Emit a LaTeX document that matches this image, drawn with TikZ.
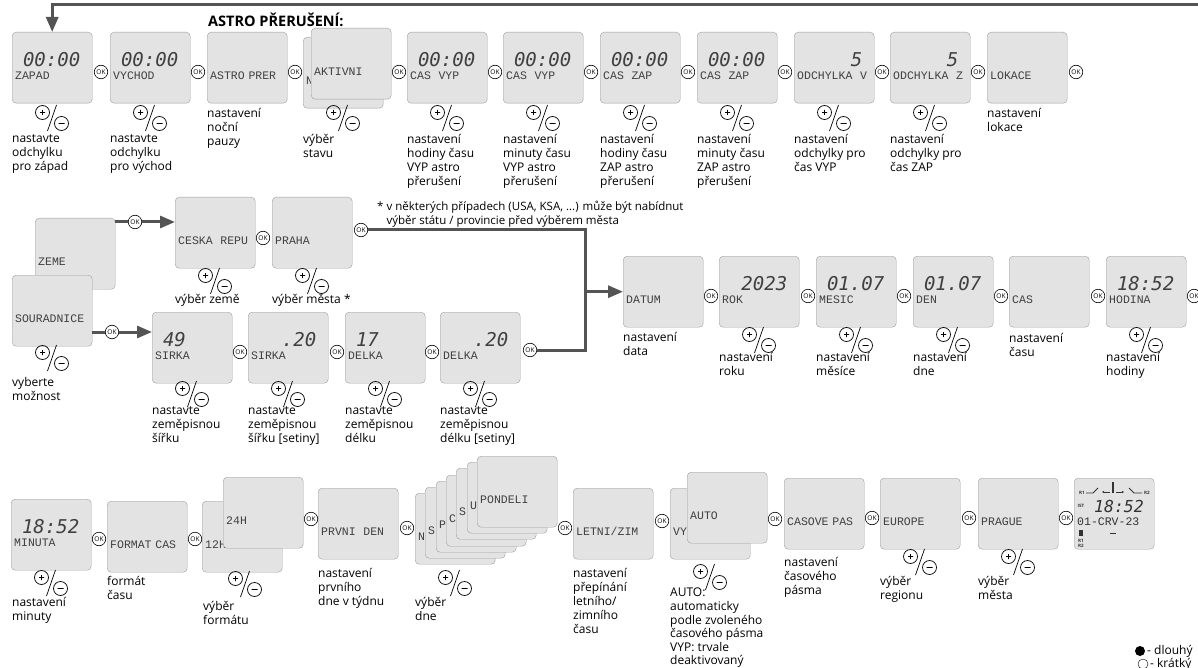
\documentclass[tikz,border=0pt]{standalone}
\usepackage{fontspec}
\setmainfont{Open Sans}
\newfontfamily\lcdfam{Liberation Mono}
\newfontfamily\digfam{DejaVu Sans Mono}
\usetikzlibrary{arrows.meta}
\newcommand\lcdval[1]{\hfill\smash{\digfam\fontsize{19}{19}\selectfont\itshape #1}\hspace*{9pt}\rule[-3pt]{0pt}{13pt}}

\begin{document}
\begin{tikzpicture}[x=1pt, y=-1pt, font=\fontsize{12}{14}\selectfont,
  lcd/.style={draw=black!38, fill=black!11, rounded corners=4pt, anchor=north west,
    minimum height=71pt, text width=74pt, inner sep=3pt, text depth=13pt, align=left,
    font=\lcdfam\fontsize{11.5}{13}\selectfont, text=black!75},
  ok/.style={circle, draw, fill=white, line width=0.6pt, inner sep=0pt, minimum size=13.5pt,
    font=\fontsize{6.5}{6.5}\selectfont},
  note/.style={anchor=north west, align=left, inner sep=0pt},
  flowline/.style={draw=black!67, line width=3pt},
  flow/.style={flowline, ->, >={Triangle[length=15pt, width=12pt]}},
  pm/.pic={
    \draw[line width=0.7pt] (-9.5,-5.5) circle (7) (9.5,5.5) circle (7) (6.5,5.5) -- (12.5,5.5)
      (-12,-5.5) -- (-7,-5.5) (-9.5,-8) -- (-9.5,-3) (-4.5,13) -- (4.5,-13);
  },
]
\useasboundingbox (0,0) rectangle (1198,668);

% astro row
\node[note, anchor=west, font=\bfseries\fontsize{14.5}{16}\selectfont] (title) at (208,20) {ASTRO PŘERUŠENÍ:};
\node[lcd] (zapad) at (12,32) {\lcdval{00:00}\\ZAPAD};
\node[lcd] (vychod) at (110,32) {\lcdval{00:00}\\VYCHOD};
\node[lcd] (astro) at (207,32) {\lcdval{}\\ASTRO PRER};
\node[lcd] (neaktivni) at (303,37) {\lcdval{}\\N};
\node[lcd] (aktivni) at (311,28) {\lcdval{}\\AKTIVNI};
\node[lcd] (vyphod) at (407,32) {\lcdval{00:00}\\CAS~~VYP};
\node[lcd] (vypmin) at (503,32) {\lcdval{00:00}\\CAS~~VYP};
\node[lcd] (zaphod) at (600,32) {\lcdval{00:00}\\CAS~~ZAP};
\node[lcd] (zapmin) at (697,32) {\lcdval{00:00}\\CAS~~ZAP};
\node[lcd] (odchvyp) at (794,32) {\lcdval{5}\\ODCHYLKA~~V};
\node[lcd] (odchzap) at (890,32) {\lcdval{5}\\ODCHYLKA~~Z};
\node[lcd] (lokace) at (987,32) {\lcdval{}\\LOKACE};

\node[ok] (okzapad) at (101,72) {OK};
\node[ok] (okvychod) at (198,72) {OK};
\node[ok] (okastro) at (295,72) {OK};
\node[ok] (okaktivni) at (399,72) {OK};
\node[ok] (okvyphod) at (495,72) {OK};
\node[ok] (okvypmin) at (591,72) {OK};
\node[ok] (okzaphod) at (688,72) {OK};
\node[ok] (okzapmin) at (785,72) {OK};
\node[ok] (okodchvyp) at (882,72) {OK};
\node[ok] (okodchzap) at (978,72) {OK};
\node[ok] (oklokace) at (1076,72) {OK};

\pic at (52,118) {pm};
\pic at (150,118) {pm};
\pic at (343,118) {pm};
\pic at (447,118) {pm};
\pic at (543,118) {pm};
\pic at (640,118) {pm};
\pic at (737,118) {pm};
\pic at (834,118) {pm};
\pic at (930,118) {pm};

\node[note] (zapad-txt) at (12,134) {nastavte\\odchylku\\pro západ};
\node[note] (vychod-txt) at (110,134) {nastavte\\odchylku\\pro východ};
\node[note] (astro-txt) at (207,108) {nastavení\\noční\\pauzy};
\node[note] (stav-txt) at (303,134) {výběr\\stavu};
\node[note] (vyphod-txt) at (407,134) {nastavení\\hodiny času\\VYP astro\\přerušení};
\node[note] (vypmin-txt) at (503,134) {nastavení\\minuty času\\VYP astro\\přerušení};
\node[note] (zaphod-txt) at (600,134) {nastavení\\hodiny času\\ZAP astro\\přerušení};
\node[note] (zapmin-txt) at (697,134) {nastavení\\minuty času\\ZAP astro\\přerušení};
\node[note] (odchvyp-txt) at (794,134) {nastavení\\odchylky pro\\čas VYP};
\node[note] (odchzap-txt) at (890,134) {nastavení\\odchylky pro\\čas ZAP};
\node[note] (lokace-txt) at (987,108) {nastavení\\lokace};

\coordinate (back) at (1210,5);
\draw[flow] (back) -| (zapad);

% location and date
\node[lcd] (zeme) at (35,218) {\lcdval{}\\ZEME};
\node[lcd] (souradnice) at (12,275) {\lcdval{}\\SOURADNICE};
\node[lcd] (ceska) at (175,197) {\lcdval{}\\CESKA~~REPU};
\node[lcd] (praha) at (272,197) {\lcdval{}\\PRAHA};
\node[lcd] (sirka) at (152,312) {\lcdval{49\phantom{:00}}\\SIRKA};
\node[lcd] (sirkas) at (248,312) {\lcdval{.20}\\SIRKA};
\node[lcd] (delka) at (345,312) {\lcdval{17\phantom{:00}}\\DELKA};
\node[lcd] (delkas) at (440,312) {\lcdval{.20}\\DELKA};
\node[lcd] (datum) at (623,256) {\lcdval{}\\DATUM};
\node[lcd] (rok) at (719,256) {\lcdval{2023}\\ROK};
\node[lcd] (mesic) at (816,256) {\lcdval{01.07}\\MESIC};
\node[lcd] (den) at (913,256) {\lcdval{01.07}\\DEN};
\node[lcd] (cas) at (1009,256) {\lcdval{}\\CAS};
\node[lcd] (hodina) at (1106,256) {\lcdval{18:52}\\HODINA};

\node[ok] (okzeme) at (135,222) {OK};
\node[ok] (okceska) at (263,238) {OK};
\node[ok] (okpraha) at (361,230) {OK};
\node[ok] (oksour) at (112,332) {OK};
\node[ok] (oksirka) at (240,352) {OK};
\node[ok] (oksirkas) at (337,352) {OK};
\node[ok] (okdelka) at (432,352) {OK};
\node[ok] (okdelkas) at (530,350) {OK};
\node[ok] (okdatum) at (711,296) {OK};
\node[ok] (okrok) at (808,296) {OK};
\node[ok] (okmesic) at (904,296) {OK};
\node[ok] (okden) at (1001,296) {OK};
\node[ok] (okcas) at (1098,296) {OK};
\node[ok] (okhodina) at (1194,296) {OK};

\draw[flowline] (zeme.east |- okzeme) -- (okzeme);
\draw[flow] (okzeme) -- (ceska.west |- okzeme);
\draw[flowline] (souradnice.east |- oksour) -- (oksour);
\draw[flow] (oksour) -- (sirka.west |- oksour);
\coordinate (join) at ([xshift=-38pt]datum.west);
\draw[flowline] (okpraha) -| (join) |- (okdelkas);
\draw[flow] (join) -- (datum);

\pic at (52,358) {pm};
\pic at (215,281) {pm};
\pic at (312,281) {pm};
\pic at (192,394) {pm};
\pic at (288,394) {pm};
\pic at (385,394) {pm};
\pic at (480,394) {pm};
\pic at (759,340) {pm};
\pic at (856,340) {pm};
\pic at (953,340) {pm};
\pic at (1146,340) {pm};

\node[note] (souradnice-txt) at (12,377) {vyberte\\možnost};
\node[note] (ceska-txt) at (175,294) {výběr země};
\node[note] (praha-txt) at (272,294) {výběr města *};
\node[note, font=\fontsize{11.5}{14}\selectfont] (pozn) at (377,201) {* v některých případech (USA, KSA, ...) může být nabídnut\\\phantom{* }výběr státu / provincie před výběrem města};
\node[note] (sirka-txt) at (152,406) {nastavte\\zeměpisnou\\šířku};
\node[note] (sirkas-txt) at (248,406) {nastavte\\zeměpisnou\\šířku [setiny]};
\node[note] (delka-txt) at (345,406) {nastavte\\zeměpisnou\\délku};
\node[note] (delkas-txt) at (440,406) {nastavte\\zeměpisnou\\délku [setiny]};
\node[note] (datum-txt) at (623,332) {nastavení\\data};
\node[note] (rok-txt) at (719,352) {nastavení\\roku};
\node[note] (mesic-txt) at (816,352) {nastavení\\měsíce};
\node[note] (den-txt) at (913,352) {nastavení\\dne};
\node[note] (cas-txt) at (1009,333) {nastavení\\času};
\node[note] (hodina-txt) at (1106,352) {nastavení\\hodiny};

% time, day, dst, zone
\node[lcd] (minuta) at (11,499) {\lcdval{18:52}\\MINUTA};
\node[lcd] (format) at (107,501) {\lcdval{}\\FORMAT CAS};
\node[lcd] (format12) at (202,501) {\lcdval{}\\12H};
\node[lcd] (format24) at (223,477) {\lcdval{}\\24H};
\node[lcd] (prvniden) at (318,488) {\lcdval{}\\PRVNI~~DEN};
\node[lcd] (nedele) at (415,493) {\lcdval{}\\N};
\node[lcd] (sobota) at (425,487) {\lcdval{}\\S};
\node[lcd] (patek) at (436,481) {\lcdval{}\\P};
\node[lcd] (ctvrtek) at (446,475) {\lcdval{}\\C};
\node[lcd] (streda) at (456,468) {\lcdval{}\\S};
\node[lcd] (utery) at (467,462) {\lcdval{}\\U};
\node[lcd] (pondeli) at (477,456) {\lcdval{}\\PONDELI};
\node[lcd] (letni) at (573,488) {\lcdval{}\\LETNI/ZIM};
\node[lcd] (vyp) at (670,488) {\lcdval{}\\VYP};
\node[lcd] (auto) at (687,472) {\lcdval{}\\AUTO};
\node[lcd] (pasmo) at (784,478) {\lcdval{}\\CASOVE PAS};
\node[lcd] (europe) at (880,478) {\lcdval{}\\EUROPE};
\node[lcd] (prague) at (978,478) {\lcdval{}\\PRAGUE};
\node[lcd] (final) at (1074,478) {};

\node[ok] (okminuta) at (99,539) {OK};
\node[ok] (okformat) at (195,539) {OK};
\node[ok] (okformat24) at (311,519) {OK};
\node[ok] (okprvni) at (407,528) {OK};
\node[ok] (okdny) at (565,528) {OK};
\node[ok] (okletni) at (662,521) {OK};
\node[ok] (okauto) at (775,519) {OK};
\node[ok] (okpasmo) at (872,518) {OK};
\node[ok] (okeurope) at (969,518) {OK};
\node[ok] (okprague) at (1066,518) {OK};

\pic at (51,583) {pm};
\pic at (245,584) {pm};
\pic at (455,583) {pm};
\pic at (710,577) {pm};
\pic at (920,562) {pm};
\pic at (1018,562) {pm};

\node[note] (minuta-txt) at (12,597) {nastavení\\minuty};
\node[note] (format-txt) at (107,576) {formát\\času};
\node[note] (format12-txt) at (203,601) {výběr\\formátu};
\node[note] (prvniden-txt) at (318,568) {nastavení\\prvního\\dne v týdnu};
\node[note] (dny-txt) at (415,597) {výběr\\dne};
\node[note] (letni-txt) at (573,568) {nastavení\\přepínání\\letního/\\zimního\\času};
\node[note, font=\fontsize{12}{13.6}\selectfont] (auto-txt) at (670,588) {AUTO:\\automaticky\\podle zvoleného\\časového pásma\\VYP: trvale\\deaktivovaný};
\node[note] (pasmo-txt) at (784,557) {nastavení\\časového\\pásma};
\node[note] (europe-txt) at (880,576) {výběr\\regionu};
\node[note] (prague-txt) at (978,576) {výběr\\města};

% final display
\begin{scope}[shift={(final.north west)}, font=\fontsize{4.5}{5}\selectfont\bfseries, inner sep=0pt, black!80]
  \node (r1) at (8,15) {R1};
  \node (r2) at (73,15) {R2};
  \draw[line width=0.8pt] (12,15) -- (19,15) -- (24,10);
  \draw[line width=0.8pt] (55,10) -- (60,15) -- (68,15);
  \draw[line width=1.4pt] (39,4) -- (39,15);
  \draw[line width=0.6pt, -{Triangle[length=2pt,width=2pt]}] (36,14) -- (28,14);
  \draw[line width=0.6pt, -{Triangle[length=2pt,width=2pt]}] (42,14) -- (50,14);
  \node (ist) at (7,28) {IST};
  \node[anchor=east, font=\digfam\itshape\fontsize{16.5}{16}\selectfont] (cas-final) at (70,28) {18:52};
  \node[anchor=west, font=\lcdfam\fontsize{11.5}{11}\selectfont] (datum-final) at (3,44) {01-CRV-23};
  \draw[line width=0.6pt] (36,55) -- (42,55);
  \fill (5,52) rectangle (9,58);
  \node (r1b) at (7,63) {R1};
  \node (r2b) at (7,68) {R2};
\end{scope}

% legend
\fill (1140,651) circle (5);
\node[note, anchor=west] (dlouhy) at (1147,651) {- dlouhý};
\draw (1143,664) circle (5);
\node[note, anchor=west] (kratky) at (1150,664) {- krátký};
\end{tikzpicture}
\end{document}
